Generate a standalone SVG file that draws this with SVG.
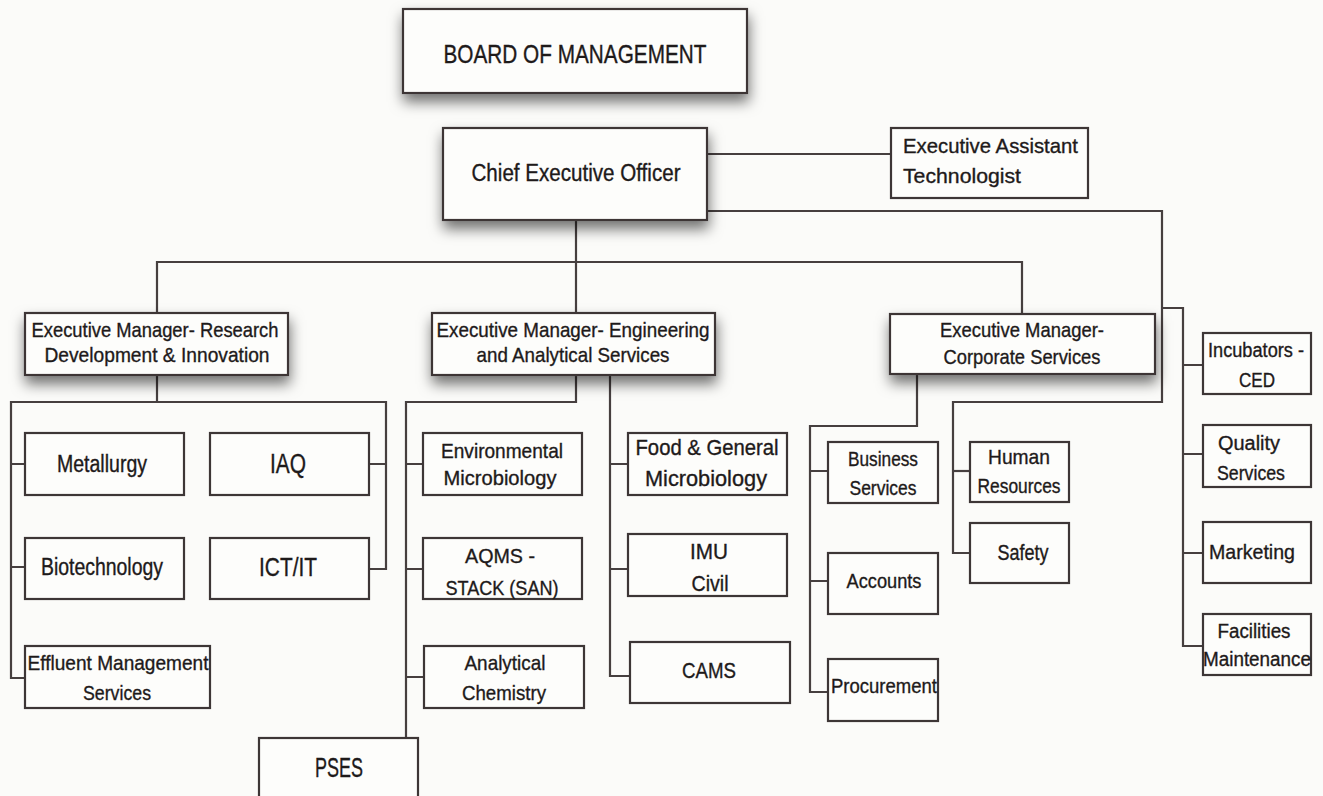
<svg xmlns="http://www.w3.org/2000/svg" width="1323" height="796" viewBox="0 0 1323 796">
  <defs>
    <filter id="shadow" x="-20%" y="-40%" width="140%" height="190%">
      <feDropShadow dx="1" dy="8" stdDeviation="7" flood-color="#000" flood-opacity="0.55"/>
    </filter>
    <style>
      .box { fill: #fdfdfb; stroke: #3d3636; stroke-width: 2.2; }
      .lead { filter: url(#shadow); }
      .conn { fill: none; stroke: #463f3f; stroke-width: 2.2; }
      text { font-family: "Liberation Sans", Arial, sans-serif; fill: #1e1a1a; stroke: #1e1a1a; stroke-width: 0.35; text-anchor: middle; }
      .left { text-anchor: start; }
    </style>
  </defs>

  <rect width="1323" height="796" fill="#fbfbf9"/>

  <!-- reporting lines -->
  <g id="connectors" class="conn">
    <path d="M707,154 H891"/>
    <path d="M707,211 H1162 V402 H953 V553 H970"/>
    <path d="M953,471 H970"/>
    <path d="M1162,308 H1183 V646 H1203"/>
    <path d="M1183,365 H1203 M1183,454 H1203 M1183,553 H1203"/>
    <path d="M576,220 V313"/>
    <path d="M157,313 V262 H1022 V314"/>
    <path d="M157,375 V402"/>
    <path d="M25,678 H11 V402 H386 V569 H369"/>
    <path d="M11,464 H25 M11,567 H25 M369,464 H386"/>
    <path d="M576,375 V402 H406 V738"/>
    <path d="M406,464 H423 M406,569 H423 M406,677 H424"/>
    <path d="M610,375 V676 H630"/>
    <path d="M610,464 H628 M610,569 H628"/>
    <path d="M917,374 V426 H810 V692 H828"/>
    <path d="M810,471 H828 M810,581 H828"/>
  </g>

  <g id="board">
    <rect class="box lead" x="403" y="9" width="344" height="84"/>
    <text x="575" y="63" font-size="25" textLength="263" lengthAdjust="spacingAndGlyphs">BOARD OF MANAGEMENT</text>
  </g>

  <g id="ceo">
    <rect class="box lead" x="443" y="128" width="264" height="92"/>
    <text x="576" y="181" font-size="23" textLength="209" lengthAdjust="spacingAndGlyphs">Chief Executive Officer</text>
  </g>

  <g id="exec-assistant">
    <rect class="box" x="891" y="128" width="197" height="70"/>
    <text class="left" x="903" y="153" font-size="21" textLength="175" lengthAdjust="spacingAndGlyphs">Executive Assistant</text>
    <text class="left" x="903" y="183" font-size="21" textLength="118" lengthAdjust="spacingAndGlyphs">Technologist</text>
  </g>

  <g id="em-rdi">
    <rect class="box lead" x="25" y="313" width="263" height="62"/>
    <text x="155" y="337" font-size="21" textLength="247" lengthAdjust="spacingAndGlyphs">Executive Manager- Research</text>
    <text x="157" y="362" font-size="21" textLength="225" lengthAdjust="spacingAndGlyphs">Development &amp; Innovation</text>
  </g>

  <g id="em-eng">
    <rect class="box lead" x="432" y="313" width="283" height="62"/>
    <text x="573" y="337" font-size="21" textLength="273" lengthAdjust="spacingAndGlyphs">Executive Manager- Engineering</text>
    <text x="573" y="362" font-size="21" textLength="193" lengthAdjust="spacingAndGlyphs">and Analytical Services</text>
  </g>

  <g id="em-corp">
    <rect class="box lead" x="890" y="314" width="265" height="60"/>
    <text x="1022" y="337" font-size="21" textLength="164" lengthAdjust="spacingAndGlyphs">Executive Manager-</text>
    <text x="1022" y="364" font-size="21" textLength="157" lengthAdjust="spacingAndGlyphs">Corporate Services</text>
  </g>

  <g id="metallurgy">
    <rect class="box" x="25" y="433" width="159" height="62"/>
    <text x="102" y="472" font-size="23" textLength="90" lengthAdjust="spacingAndGlyphs">Metallurgy</text>
  </g>

  <g id="iaq">
    <rect class="box" x="210" y="433" width="159" height="62"/>
    <text x="288" y="473" font-size="27" textLength="36" lengthAdjust="spacingAndGlyphs">IAQ</text>
  </g>

  <g id="biotechnology">
    <rect class="box" x="25" y="538" width="159" height="61"/>
    <text x="102" y="575" font-size="23" textLength="122" lengthAdjust="spacingAndGlyphs">Biotechnology</text>
  </g>

  <g id="ict-it">
    <rect class="box" x="210" y="538" width="159" height="61"/>
    <text x="288" y="576" font-size="26" textLength="58" lengthAdjust="spacingAndGlyphs">ICT/IT</text>
  </g>

  <g id="effluent">
    <rect class="box" x="25" y="646" width="185" height="62"/>
    <text x="118" y="670" font-size="21" textLength="181" lengthAdjust="spacingAndGlyphs">Effluent Management</text>
    <text x="117" y="700" font-size="21" textLength="68" lengthAdjust="spacingAndGlyphs">Services</text>
  </g>

  <g id="env-micro">
    <rect class="box" x="423" y="433" width="159" height="62"/>
    <text x="502" y="458" font-size="21" textLength="122" lengthAdjust="spacingAndGlyphs">Environmental</text>
    <text x="500" y="485" font-size="21" textLength="113" lengthAdjust="spacingAndGlyphs">Microbiology</text>
  </g>

  <g id="aqms">
    <rect class="box" x="423" y="538" width="159" height="61"/>
    <text x="500" y="563" font-size="21" textLength="70" lengthAdjust="spacingAndGlyphs">AQMS -</text>
    <text x="502" y="595" font-size="21" textLength="113" lengthAdjust="spacingAndGlyphs">STACK (SAN)</text>
  </g>

  <g id="analytical">
    <rect class="box" x="424" y="646" width="160" height="62"/>
    <text x="505" y="670" font-size="21" textLength="81" lengthAdjust="spacingAndGlyphs">Analytical</text>
    <text x="504" y="700" font-size="21" textLength="84" lengthAdjust="spacingAndGlyphs">Chemistry</text>
  </g>

  <g id="pses">
    <rect class="box" x="259" y="738" width="159" height="64"/>
    <text x="339" y="777" font-size="27" textLength="48" lengthAdjust="spacingAndGlyphs">PSES</text>
  </g>

  <g id="food-micro">
    <rect class="box" x="628" y="433" width="159" height="62"/>
    <text x="707" y="455" font-size="22" textLength="143" lengthAdjust="spacingAndGlyphs">Food &amp; General</text>
    <text x="706" y="486" font-size="22" textLength="122" lengthAdjust="spacingAndGlyphs">Microbiology</text>
  </g>

  <g id="imu">
    <rect class="box" x="628" y="534" width="159" height="62"/>
    <text x="709" y="559" font-size="22" textLength="38" lengthAdjust="spacingAndGlyphs">IMU</text>
    <text x="710" y="591" font-size="22" textLength="37" lengthAdjust="spacingAndGlyphs">Civil</text>
  </g>

  <g id="cams">
    <rect class="box" x="630" y="642" width="160" height="61"/>
    <text x="709" y="678" font-size="22" textLength="54" lengthAdjust="spacingAndGlyphs">CAMS</text>
  </g>

  <g id="business">
    <rect class="box" x="828" y="442" width="110" height="61"/>
    <text x="883" y="466" font-size="20" textLength="70" lengthAdjust="spacingAndGlyphs">Business</text>
    <text x="883" y="495" font-size="20" textLength="67" lengthAdjust="spacingAndGlyphs">Services</text>
  </g>

  <g id="accounts">
    <rect class="box" x="828" y="553" width="110" height="61"/>
    <text x="884" y="588" font-size="21" textLength="75" lengthAdjust="spacingAndGlyphs">Accounts</text>
  </g>

  <g id="procurement">
    <rect class="box" x="828" y="659" width="110" height="62"/>
    <text x="884" y="693" font-size="21" textLength="106" lengthAdjust="spacingAndGlyphs">Procurement</text>
  </g>

  <g id="human-resources">
    <rect class="box" x="970" y="442" width="99" height="60"/>
    <text x="1019" y="464" font-size="21" textLength="62" lengthAdjust="spacingAndGlyphs">Human</text>
    <text x="1019" y="493" font-size="21" textLength="83" lengthAdjust="spacingAndGlyphs">Resources</text>
  </g>

  <g id="safety">
    <rect class="box" x="970" y="523" width="99" height="60"/>
    <text x="1023" y="560" font-size="22" textLength="51" lengthAdjust="spacingAndGlyphs">Safety</text>
  </g>

  <g id="incubators">
    <rect class="box" x="1203" y="333" width="108" height="61"/>
    <text x="1256" y="357" font-size="20" textLength="96" lengthAdjust="spacingAndGlyphs">Incubators -</text>
    <text x="1257" y="387" font-size="20" textLength="36" lengthAdjust="spacingAndGlyphs">CED</text>
  </g>

  <g id="quality">
    <rect class="box" x="1203" y="425" width="108" height="62"/>
    <text x="1249" y="450" font-size="20" textLength="62" lengthAdjust="spacingAndGlyphs">Quality</text>
    <text x="1251" y="480" font-size="20" textLength="68" lengthAdjust="spacingAndGlyphs">Services</text>
  </g>

  <g id="marketing">
    <rect class="box" x="1203" y="522" width="108" height="61"/>
    <text x="1252" y="559" font-size="21" textLength="86" lengthAdjust="spacingAndGlyphs">Marketing</text>
  </g>

  <g id="facilities">
    <rect class="box" x="1203" y="614" width="108" height="61"/>
    <text x="1254" y="638" font-size="20" textLength="73" lengthAdjust="spacingAndGlyphs">Facilities</text>
    <text x="1257" y="666" font-size="20" textLength="108" lengthAdjust="spacingAndGlyphs">Maintenance</text>
  </g>
</svg>
